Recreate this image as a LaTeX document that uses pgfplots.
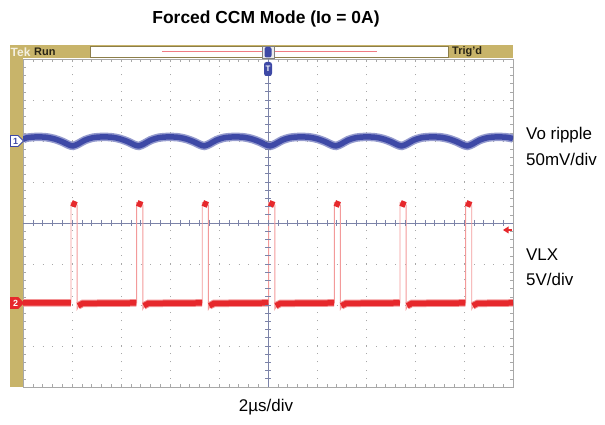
\documentclass[border=0pt]{standalone}
\usepackage{pgfplots}
\pgfplotsset{compat=1.18}
\usepackage{fontspec}
\setmainfont{Liberation Sans}

\definecolor{tekolive}{HTML}{C8B46A}
\definecolor{tracebl}{HTML}{3E49A6}
\definecolor{tracerd}{HTML}{E6282C}
\definecolor{edgerd}{HTML}{F39A9A}
\definecolor{pinkln}{HTML}{F07C84}
\definecolor{centerln}{HTML}{7C83A8}
\definecolor{gridc}{HTML}{A8A8A8}

\begin{document}
\begin{tikzpicture}
\useasboundingbox (0,0) rectangle (605bp,425bp);

\begin{axis}[
  at={(23bp,38bp)}, anchor=south west,
  width=490bp, height=328bp, scale only axis,
  xmin=0, xmax=10, ymin=-4, ymax=4,
  xtick={0,...,10}, ytick={-4,...,4},
  minor x tick num=4, minor y tick num=4,
  xticklabels={}, yticklabels={},
  tick align=inside,
  major tick length=3bp, minor tick length=3bp,
  tick style={gridc, line width=0.6bp},
  grid=major,
  major x grid style={gridc, line width=0.9bp, dash pattern=on 0.9bp off 7.3bp},
  major y grid style={gridc, line width=0.9bp, dash pattern=on 0.9bp off 8.9bp},
  axis line style={gridc, line width=0.8bp},
  unbounded coords=jump,
]
% graticule centre lines
\draw[centerln, line width=1bp] (axis cs:0,0) -- (axis cs:10,0);
\draw[centerln, line width=1bp] (axis cs:5,-4) -- (axis cs:5,4);

% Vo ripple (CH1)
\addplot[tracebl!55, line width=8.5bp, smooth, tension=0.5] coordinates {
(0,2.04)(0.081,2.08)(0.282,2.10)(0.483,2.09)(0.644,2.05)(0.805,1.98)(0.926,1.91)(1.02,1.88)
(1.127,1.93)(1.262,2.02)(1.423,2.08)(1.624,2.10)(1.825,2.09)(1.986,2.05)(2.147,1.98)(2.268,1.91)(2.362,1.88)
(2.469,1.93)(2.604,2.02)(2.765,2.08)(2.966,2.10)(3.167,2.09)(3.328,2.05)(3.489,1.98)(3.610,1.91)(3.704,1.88)
(3.811,1.93)(3.946,2.02)(4.107,2.08)(4.308,2.10)(4.509,2.09)(4.670,2.05)(4.831,1.98)(4.952,1.91)(5.046,1.88)
(5.153,1.93)(5.288,2.02)(5.449,2.08)(5.650,2.10)(5.851,2.09)(6.012,2.05)(6.173,1.98)(6.294,1.91)(6.388,1.88)
(6.495,1.93)(6.630,2.02)(6.791,2.08)(6.992,2.10)(7.193,2.09)(7.354,2.05)(7.515,1.98)(7.636,1.91)(7.730,1.88)
(7.837,1.93)(7.972,2.02)(8.133,2.08)(8.334,2.10)(8.535,2.09)(8.696,2.05)(8.857,1.98)(8.978,1.91)(9.072,1.88)
(9.179,1.93)(9.314,2.02)(9.475,2.08)(9.676,2.10)(9.877,2.09)(10,2.06)
};
\addplot[tracebl, line width=5.5bp, smooth, tension=0.5] coordinates {
(0,2.04)(0.081,2.08)(0.282,2.10)(0.483,2.09)(0.644,2.05)(0.805,1.98)(0.926,1.91)(1.02,1.88)
(1.127,1.93)(1.262,2.02)(1.423,2.08)(1.624,2.10)(1.825,2.09)(1.986,2.05)(2.147,1.98)(2.268,1.91)(2.362,1.88)
(2.469,1.93)(2.604,2.02)(2.765,2.08)(2.966,2.10)(3.167,2.09)(3.328,2.05)(3.489,1.98)(3.610,1.91)(3.704,1.88)
(3.811,1.93)(3.946,2.02)(4.107,2.08)(4.308,2.10)(4.509,2.09)(4.670,2.05)(4.831,1.98)(4.952,1.91)(5.046,1.88)
(5.153,1.93)(5.288,2.02)(5.449,2.08)(5.650,2.10)(5.851,2.09)(6.012,2.05)(6.173,1.98)(6.294,1.91)(6.388,1.88)
(6.495,1.93)(6.630,2.02)(6.791,2.08)(6.992,2.10)(7.193,2.09)(7.354,2.05)(7.515,1.98)(7.636,1.91)(7.730,1.88)
(7.837,1.93)(7.972,2.02)(8.133,2.08)(8.334,2.10)(8.535,2.09)(8.696,2.05)(8.857,1.98)(8.978,1.91)(9.072,1.88)
(9.179,1.93)(9.314,2.02)(9.475,2.08)(9.676,2.10)(9.877,2.09)(10,2.06)
};

% VLX (CH2): thin edges
\addplot[edgerd, line width=0.9bp] coordinates {
(0,-1.95)
(0.980,-1.95)(0.980,0.50)(1.105,0.44)(1.105,-2.10)(1.14,-2.02)(1.25,-1.96)
(2.320,-1.95)(2.320,0.50)(2.445,0.44)(2.445,-2.10)(2.48,-2.02)(2.59,-1.96)
(3.659,-1.95)(3.659,0.50)(3.784,0.44)(3.784,-2.10)(3.82,-2.02)(3.93,-1.96)
(5.014,-1.95)(5.014,0.50)(5.139,0.44)(5.139,-2.10)(5.175,-2.02)(5.285,-1.96)
(6.353,-1.95)(6.353,0.50)(6.478,0.44)(6.478,-2.10)(6.515,-2.02)(6.625,-1.96)
(7.694,-1.95)(7.694,0.50)(7.819,0.44)(7.819,-2.10)(7.855,-2.02)(7.965,-1.96)
(9.034,-1.95)(9.034,0.50)(9.159,0.44)(9.159,-2.10)(9.195,-2.02)(9.305,-1.96)
(10,-1.95)
};
% VLX: noisy low level and pulse tops
\addplot[tracerd!50, line width=7.5bp] coordinates {
(0,-1.95)(0.975,-1.95) (nan,nan)
(1.125,-2.02)(1.22,-1.96)(2.315,-1.95) (nan,nan)
(2.465,-2.02)(2.56,-1.96)(3.654,-1.95) (nan,nan)
(3.804,-2.02)(3.90,-1.96)(5.009,-1.95) (nan,nan)
(5.159,-2.02)(5.255,-1.96)(6.348,-1.95) (nan,nan)
(6.498,-2.02)(6.595,-1.96)(7.689,-1.95) (nan,nan)
(7.839,-2.02)(7.935,-1.96)(9.029,-1.95) (nan,nan)
(9.179,-2.02)(9.275,-1.96)(10,-1.95)
};
\addplot[tracerd, line width=5.5bp] coordinates {
(0,-1.95)(0.975,-1.95) (nan,nan)
(1.125,-2.02)(1.22,-1.96)(2.315,-1.95) (nan,nan)
(2.465,-2.02)(2.56,-1.96)(3.654,-1.95) (nan,nan)
(3.804,-2.02)(3.90,-1.96)(5.009,-1.95) (nan,nan)
(5.159,-2.02)(5.255,-1.96)(6.348,-1.95) (nan,nan)
(6.498,-2.02)(6.595,-1.96)(7.689,-1.95) (nan,nan)
(7.839,-2.02)(7.935,-1.96)(9.029,-1.95) (nan,nan)
(9.179,-2.02)(9.275,-1.96)(10,-1.95)
};
\addplot[tracerd, line width=6bp] coordinates {
(0.992,0.49)(1.03,0.47)(1.093,0.44) (nan,nan)
(2.332,0.49)(2.37,0.47)(2.433,0.44) (nan,nan)
(3.671,0.49)(3.709,0.47)(3.772,0.44) (nan,nan)
(5.026,0.49)(5.064,0.47)(5.127,0.44) (nan,nan)
(6.365,0.49)(6.403,0.47)(6.466,0.44) (nan,nan)
(7.706,0.49)(7.744,0.47)(7.807,0.44) (nan,nan)
(9.046,0.49)(9.084,0.47)(9.147,0.44)
};
\end{axis}

% screen furniture, in picture pixels (y downwards)
\begin{scope}[x=1bp, y=-1bp, yshift=425bp]
  % ticks on the centre lines
  \foreach \k in {1,...,49} \draw[centerln, line width=0.6bp] (23+9.8*\k,220) -- ++(0,6);
  \foreach \k in {1,...,39} \draw[centerln, line width=0.6bp] (265,59+8.2*\k) -- ++(6,0);

  % top status bar and left bar
  \fill[tekolive] (10,45) rectangle (513,58.5);
  \fill[tekolive] (10,45) rectangle (23,387);
  \filldraw[fill=white, draw=tekolive!70!black, line width=0.6bp] (90,46.5) rectangle (448,57);
  \draw[pinkln, line width=1.4bp] (162,51.5) -- (377,51.5);
  \node[anchor=west, inner sep=0, font=\fontsize{12}{12}\selectfont\bfseries, text=white!80!tekolive] at (10.5,51.8) {Tek};
  \node[anchor=west, inner sep=0, font=\fontsize{11}{11}\selectfont\bfseries, text=black!80!tekolive] at (34,51.8) {Run};
  \node[anchor=west, inner sep=0, font=\fontsize{11}{11}\selectfont\bfseries, text=black!80!tekolive] at (452,51.8) {Trig'd};

  % horizontal position / trigger markers
  \filldraw[fill=white!85!gray, draw=gray, line width=0.5bp] (262,46) rectangle (274,58);
  \fill[tracebl, rounded corners=2bp] (264.5,47) rectangle (271.5,57.5);
  \fill[tracebl, rounded corners=2.5bp] (264,62) rectangle (272,76);
  \node[inner sep=0, font=\fontsize{8}{8}\selectfont\bfseries, text=white] at (268,69) {T};

  % channel markers
  \filldraw[fill=white, draw=tracebl, line width=0.8bp] (10.5,135.5) -- (18,135.5) -- (23.5,141) -- (18,146.5) -- (10.5,146.5) -- cycle;
  \node[inner sep=0, font=\fontsize{9}{9}\selectfont\bfseries, text=tracebl] at (15.5,141) {1};
  \filldraw[fill=tracerd, draw=tracerd, line width=0.8bp] (10.5,297.5) -- (18,297.5) -- (23.5,303) -- (18,308.5) -- (10.5,308.5) -- cycle;
  \node[inner sep=0, font=\fontsize{9}{9}\selectfont\bfseries, text=white] at (15.5,303) {2};

  % trigger level arrow
  \draw[tracerd, line width=1.2bp] (512,230) -- (506,230);
  \fill[tracerd] (503,230) -- (508.5,226.5) -- (508.5,233.5) -- cycle;

  % texts
  \node[font=\fontsize{17.5}{20}\selectfont\bfseries] at (266,19) {Forced CCM Mode (Io = 0A)};
  \node[anchor=west, inner sep=0, font=\fontsize{17}{20}\selectfont] at (526,135) {Vo ripple};
  \node[anchor=west, inner sep=0, font=\fontsize{17}{20}\selectfont] at (526,159) {50mV/div};
  \node[anchor=west, inner sep=0, font=\fontsize{17}{20}\selectfont] at (526,255) {VLX};
  \node[anchor=west, inner sep=0, font=\fontsize{17}{20}\selectfont] at (526,279) {5V/div};
  \node[font=\fontsize{17}{20}\selectfont] at (266,407) {2µs/div};
\end{scope}
\end{tikzpicture}
\end{document}
